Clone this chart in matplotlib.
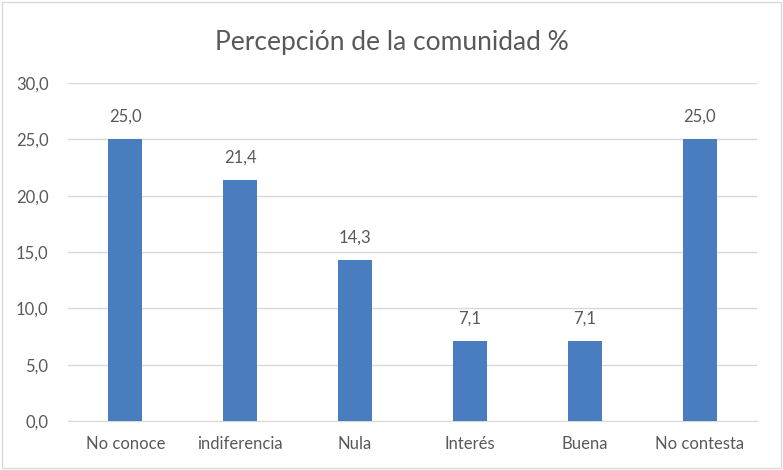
import matplotlib
matplotlib.use("Agg")
import matplotlib.pyplot as plt
from matplotlib.patches import Rectangle

categories = ["No conoce", "indiferencia", "Nula", "Interés", "Buena", "No contesta"]
values = [25.0, 21.4, 14.3, 7.1, 7.1, 25.0]
yticks = [0, 5, 10, 15, 20, 25, 30]
title = "Percepción de la comunidad %"

plt.rcParams['font.family'] = ['Lato', 'DejaVu Sans']
txt = "#595959"

fig = plt.figure(figsize=(7.83, 4.70), dpi=100)
ax = fig.add_axes([0.0868, 0.1043, 0.88, 0.7191])
x = range(len(categories))
ax.bar(x, values, width=0.296, color="#4a7dbf", zorder=3)
for xi, v in zip(x, values):
    ax.text(xi, v + 1.3, f"{v:.1f}".replace(".", ","), ha="center", va="bottom",
            fontsize=12, color=txt)
ax.set_xlim(-0.5, len(categories) - 0.5)
ax.set_ylim(0, 30)
ax.set_yticks(yticks)
ax.set_yticklabels([f"{t:.1f}".replace(".", ",") for t in yticks], fontsize=12, color=txt)
ax.set_xticks(list(x))
ax.set_xticklabels(categories, fontsize=12, color=txt)
ax.tick_params(axis="x", length=0, pad=11)
ax.tick_params(axis="y", length=0, pad=14)
ax.yaxis.grid(True, color="#d9d9d9", linewidth=1, zorder=0)
for s in ["top", "right", "left"]:
    ax.spines[s].set_visible(False)
ax.spines["bottom"].set_color("#d9d9d9")
fig.text(0.5, 0.91, title, ha="center", va="center", fontsize=19, color=txt)
fig.patches.append(Rectangle((0.003, 0.005), 0.994, 0.99, transform=fig.transFigure,
                             fill=False, edgecolor="#d9d9d9", linewidth=1))
fig.savefig("out.png", dpi=100)
